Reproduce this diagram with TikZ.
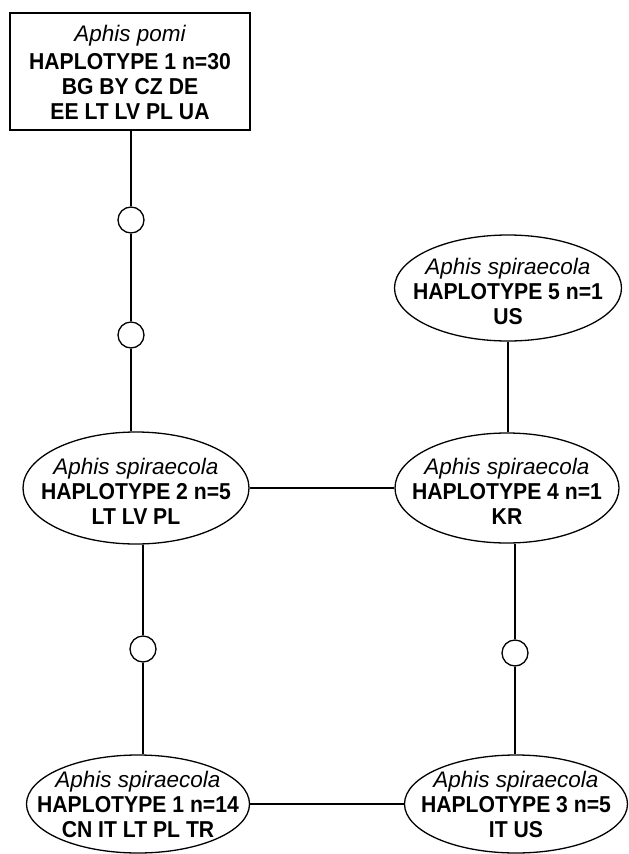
\documentclass[tikz,border=0pt]{standalone}
\usepackage{fontspec}
\setmainfont{Liberation Sans}
\newfontfamily\hapfont{Liberation Sans}[FakeStretch=0.92]
\usetikzlibrary{shapes.geometric}
\newcommand{\spname}[1]{{\normalfont\mdseries\itshape\fontsize{22.5}{25}\selectfont #1}}
\begin{document}
\begin{tikzpicture}[x=1pt,y=-1pt,
  conn/.style={line width=1.3pt},
  hap/.style={draw,line width=1.3pt,ellipse,inner sep=0pt},
  haptext/.style={inner sep=0pt,align=center,
    font=\hapfont\fontsize{23}{25}\selectfont\bfseries},
  haplobox/.style={draw,line width=1.3pt,rectangle,inner sep=0pt},
  dot/.style={draw,circle,fill=white,line width=1.3pt,minimum size=26pt,inner sep=0pt},
]
\useasboundingbox (0,0) rectangle (629,854);

\node[haplobox,minimum width=240pt,minimum height=117pt] (box) at (130,71.5) {};
\node[haptext] (tbox) at ([yshift=-1pt]box.center)
  {\spname{Aphis pomi}\\[3pt]HAPLOTYPE 1 n=30\\BG BY CZ DE\\EE LT LV PL UA};

\node[hap,minimum width=227pt,minimum height=106pt] (e5) at (508,288) {};
\node[hap,minimum width=226pt,minimum height=112pt] (e2) at (136,488) {};
\node[hap,minimum width=224pt,minimum height=110pt] (e4) at (507,488) {};
\node[hap,minimum width=223pt,minimum height=98pt] (e1) at (138,804) {};
\node[hap,minimum width=223pt,minimum height=98pt] (e3) at (516,804) {};

\node[haptext] (t5) at ([yshift=-3pt]e5.center)
  {\spname{Aphis spiraecola}\\HAPLOTYPE 5 n=1\\US};
\node[haptext] (t2) at ([yshift=-3pt]e2.center)
  {\spname{Aphis spiraecola}\\HAPLOTYPE 2 n=5\\LT LV PL};
\node[haptext] (t4) at ([yshift=-3pt]e4.center)
  {\spname{Aphis spiraecola}\\HAPLOTYPE 4 n=1\\KR};
\node[haptext] (t1) at ([yshift=0pt]e1.center)
  {\spname{Aphis spiraecola}\\HAPLOTYPE 1 n=14\\CN IT LT PL TR};
\node[haptext] (t3) at ([yshift=0pt]e3.center)
  {\spname{Aphis spiraecola}\\HAPLOTYPE 3 n=5\\IT US};

\node[dot] (c1) at (131,220) {};
\node[dot] (c2) at (131,335) {};
\node[dot] (c3) at (143,649) {};
\node[dot] (c4) at (515,653) {};

\draw[conn] (c1 |- box.south) -- (c1) -- (c2) -- (c2 |- e2.north);
\draw[conn] (c3 |- e2.south) -- (c3) -- (c3 |- e1.north);
\draw[conn] (c4 |- e4.south) -- (c4) -- (c4 |- e3.north);
\draw[conn] (e2.east) -- (e4.west);
\draw[conn] (e5.south) -- (e5.south |- e4.north);
\draw[conn] (e1.east) -- (e3.west);
\end{tikzpicture}
\end{document}
